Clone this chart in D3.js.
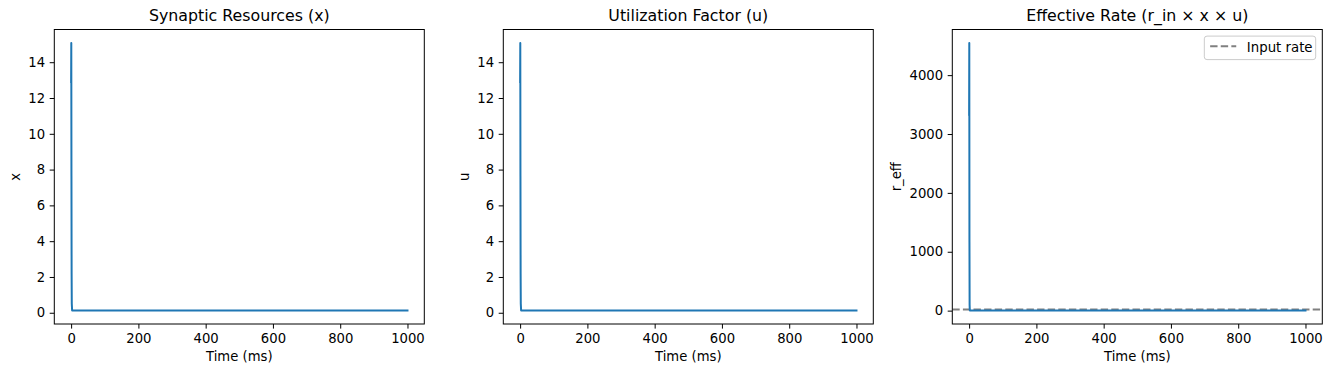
<!DOCTYPE html>
<html>
<head>
<meta charset="utf-8">
<script src="https://cdn.jsdelivr.net/npm/d3@7"></script>
<style>
  body { margin: 0; background: #fff; }
  svg { display: block; font-family: "DejaVu Sans", sans-serif; }
</style>
</head>
<body>
<script>
// values
const timeMs = [0, 0.5, 1, 1.5, 2, 3, 5, 10, 25, 50, 100, 200, 300, 400, 500, 600, 700, 800, 900, 1000];
const resourcesX = [12.9, 15.08, 7.6, 2.2, 0.5, 0.13, 0.12, 0.12, 0.12, 0.12, 0.12, 0.12, 0.12, 0.12, 0.12, 0.12, 0.12, 0.12, 0.12, 0.12];
const utilizationU = [12.9, 15.08, 7.6, 2.2, 0.5, 0.13, 0.12, 0.12, 0.12, 0.12, 0.12, 0.12, 0.12, 0.12, 0.12, 0.12, 0.12, 0.12, 0.12, 0.12];
const effectiveRate = [3328, 4548, 1155, 97, 5, 0.34, 0.29, 0.29, 0.29, 0.29, 0.29, 0.29, 0.29, 0.29, 0.29, 0.29, 0.29, 0.29, 0.29, 0.29];
const inputRate = 20;

const xTicks = [0, 200, 400, 600, 800, 1000];
const xyTicks = [0, 2, 4, 6, 8, 10, 12, 14];
const rateTicks = [0, 1000, 2000, 3000, 4000];

const titles = ["Synaptic Resources (x)", "Utilization Factor (u)", "Effective Rate (r_in \u00d7 x \u00d7 u)"];
const yLabels = ["x", "u", "r_eff"];
const xLabel = "Time (ms)";
const legendLabel = "Input rate";

const w = 1331;
const h = 374;
const axTop = 29.5;
const axH = 294.5;
const axW = 370;
const lefts = [54.3, 503.3, 952.3];
const tickLen = 4.6;
const tickPad = 4.6;
const fontSize = 13.2;
const blue = "#1f77b4";

const svg = d3.select("body")
  .append("svg")
  .attr("width", w)
  .attr("height", h);

svg.append("rect").attr("width", w).attr("height", h).attr("fill", "#fff");

// matplotlib style 5% margins
function padded(lo, hi) {
  const m = (hi - lo) * 0.05;
  return [lo - m, hi + m];
}

function drawPanel(i, values, yTicks, extra) {
  const left = lefts[i];
  const g = svg.append("g").attr("transform", "translate(" + left + "," + axTop + ")");

  const xScale = d3.scaleLinear()
    .domain(padded(d3.min(timeMs), d3.max(timeMs)))
    .range([0, axW]);

  let lo = d3.min(values), hi = d3.max(values);
  if (extra !== undefined) { lo = Math.min(lo, extra); hi = Math.max(hi, extra); }
  const yScale = d3.scaleLinear()
    .domain(padded(lo, hi))
    .range([axH, 0]);

  g.append("clipPath").attr("id", "clip" + i)
    .append("rect").attr("width", axW).attr("height", axH);

  const plot = g.append("g").attr("clip-path", "url(#clip" + i + ")");

  if (extra !== undefined) {
    plot.append("line")
      .attr("x1", 0).attr("x2", axW)
      .attr("y1", yScale(extra)).attr("y2", yScale(extra))
      .attr("stroke", "gray")
      .attr("stroke-width", 2)
      .attr("stroke-dasharray", "7.4,3.2");
  }

  const line = d3.line()
    .x((d, k) => xScale(timeMs[k]))
    .y(d => yScale(d));

  plot.append("path")
    .datum(values)
    .attr("d", line)
    .attr("fill", "none")
    .attr("stroke", blue)
    .attr("stroke-width", 2)
    .attr("stroke-linejoin", "round")
    .attr("stroke-linecap", "square");

  const xAxis = d3.axisBottom(xScale)
    .tickValues(xTicks)
    .tickFormat(d3.format("d"))
    .tickSize(tickLen)
    .tickPadding(tickPad)
    .tickSizeOuter(0);
  const yAxis = d3.axisLeft(yScale)
    .tickValues(yTicks)
    .tickFormat(d3.format("d"))
    .tickSize(tickLen)
    .tickPadding(tickPad)
    .tickSizeOuter(0);

  const gx = g.append("g")
    .attr("transform", "translate(0," + axH + ")")
    .call(xAxis);
  const gy = g.append("g").call(yAxis);

  [gx, gy].forEach(a => {
    a.select(".domain").remove();
    a.selectAll("line").attr("stroke", "#000").attr("stroke-width", 1);
    a.selectAll("text")
      .attr("fill", "#000")
      .style("font-size", fontSize + "px")
      .style("font-family", "DejaVu Sans");
  });
  gx.selectAll("text").attr("dy", "0.76em");

  // spines
  g.append("rect")
    .attr("width", axW).attr("height", axH)
    .attr("fill", "none")
    .attr("stroke", "#000")
    .attr("stroke-width", 1);

  g.append("text")
    .attr("x", axW / 2)
    .attr("y", 21.2 - axTop)
    .attr("text-anchor", "middle")
    .style("font-size", "15.8px")
    .text(titles[i]);

  g.append("text")
    .attr("x", axW / 2)
    .attr("y", 361 - axTop)
    .attr("text-anchor", "middle")
    .style("font-size", fontSize + "px")
    .text(xLabel);

  const bb = gy.node().getBBox();
  const lx = bb.x - 5.3 - fontSize * 0.236;
  g.append("text")
    .attr("transform", "translate(" + lx + "," + (axH / 2) + ") rotate(-90)")
    .attr("text-anchor", "middle")
    .style("font-size", fontSize + "px")
    .text(yLabels[i]);

  return g;
}

drawPanel(0, resourcesX, xyTicks);
drawPanel(1, utilizationU, xyTicks);
const g3 = drawPanel(2, effectiveRate, rateTicks, inputRate);

// legend
const lf = 13.3;
const boxW = lf * (0.8 + 2 + 0.8) + 63.5;
const boxH = 23.5;
const legend = g3.append("g")
  .attr("transform", "translate(" + (axW - 6.6 - boxW) + "," + 6.6 + ")");

legend.append("rect")
  .attr("width", boxW).attr("height", boxH)
  .attr("rx", 2.7).attr("ry", 2.7)
  .attr("fill", "#fff").attr("fill-opacity", 0.8)
  .attr("stroke", "#cccccc").attr("stroke-width", 1);

legend.append("line")
  .attr("x1", lf * 0.4 + 0.5).attr("x2", lf * 2.4)
  .attr("y1", boxH / 2 - 1.5).attr("y2", boxH / 2 - 1.5)
  .attr("stroke", "gray")
  .attr("stroke-width", 2)
  .attr("stroke-dasharray", "7.4,3.2");

legend.append("text")
  .attr("x", lf * 3.2)
  .attr("y", boxH / 2 + 4.2)
  .style("font-size", lf + "px")
  .text(legendLabel);
</script>
</body>
</html>
